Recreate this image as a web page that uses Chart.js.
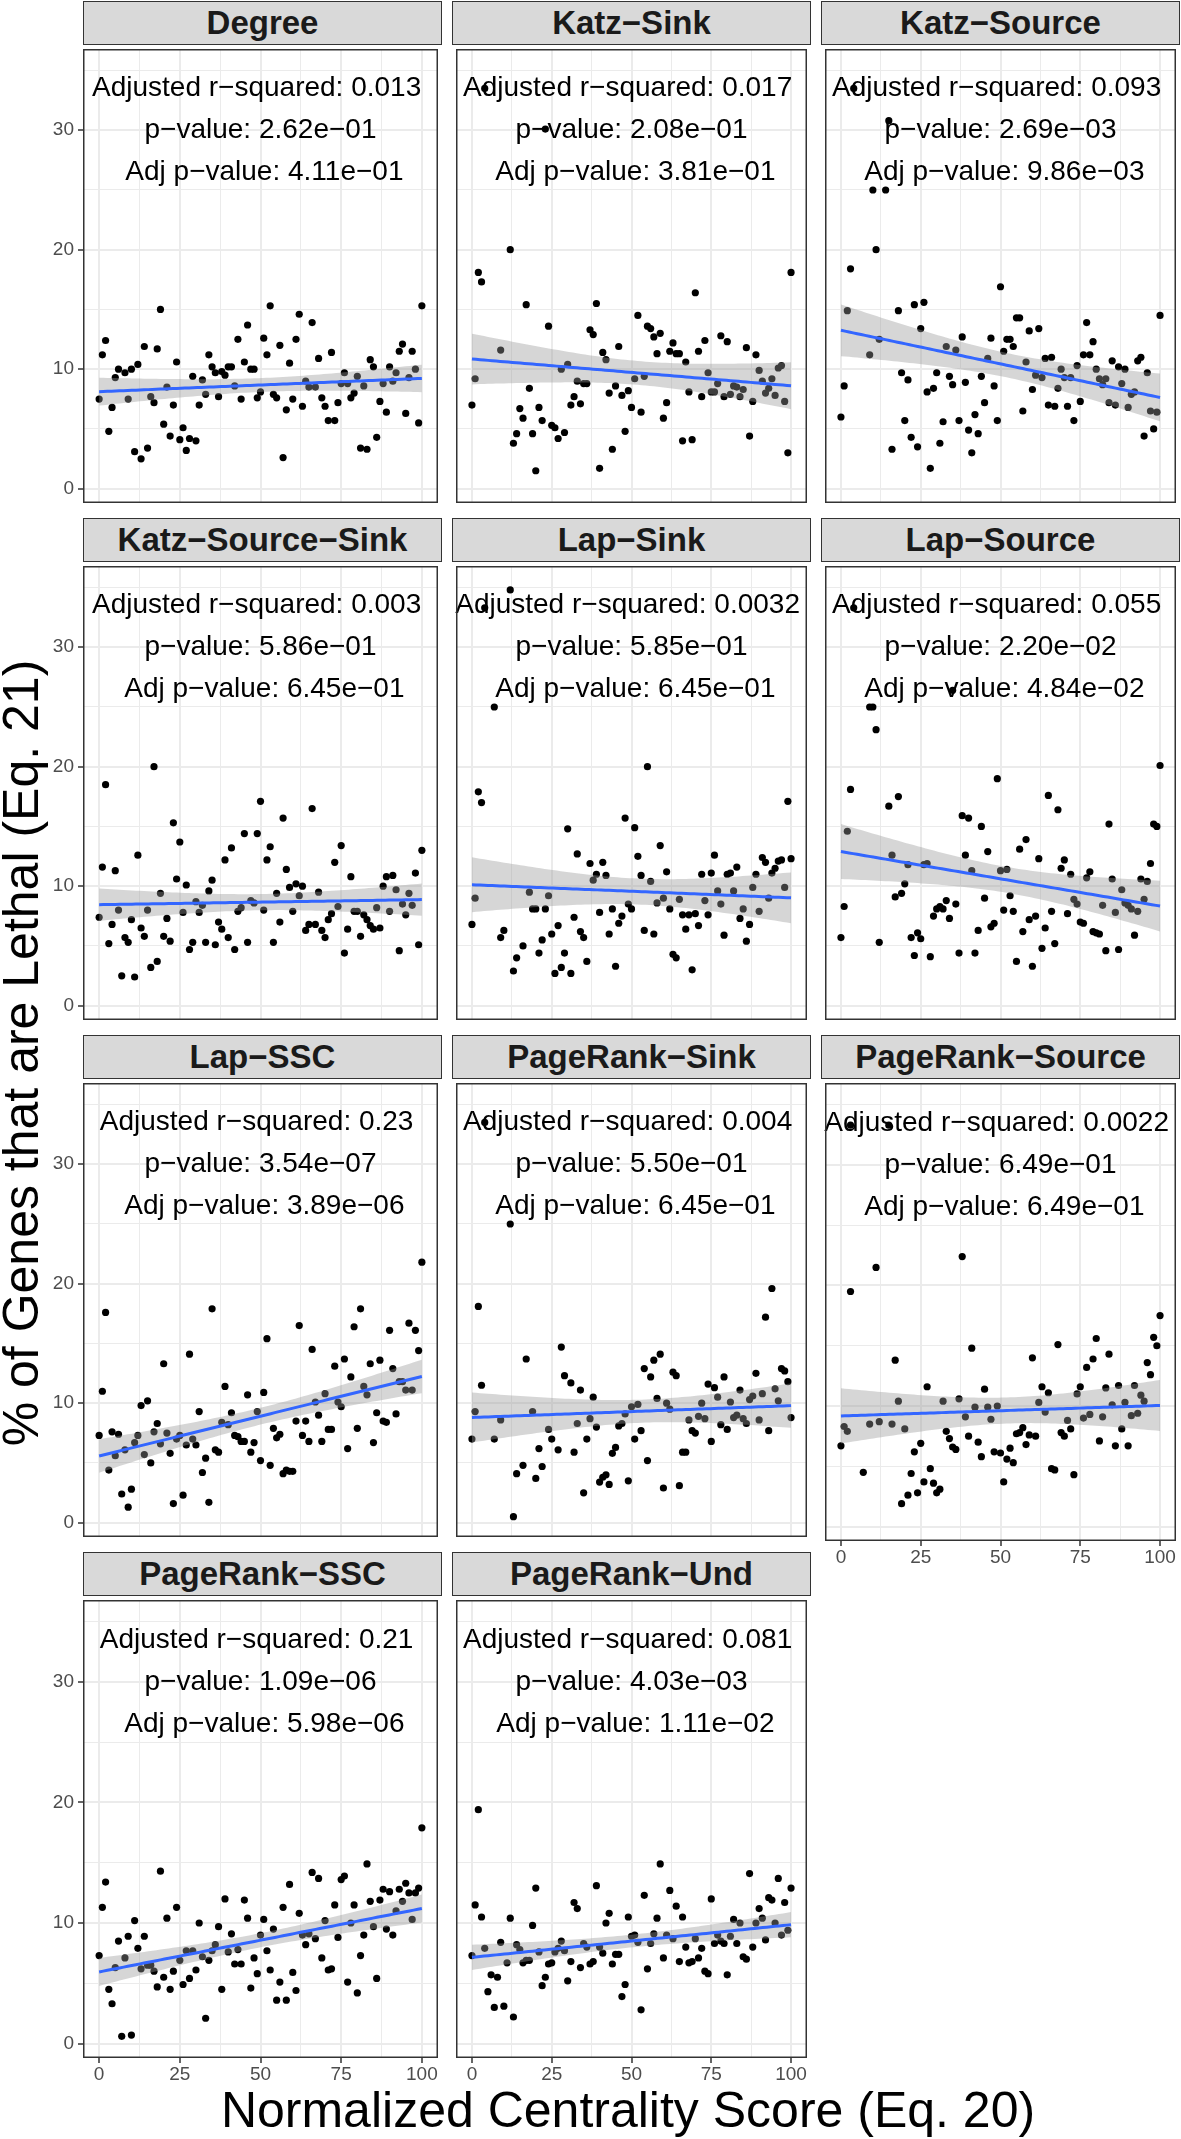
<!DOCTYPE html>
<html>
<head>
<meta charset="utf-8">
<script src="https://cdn.jsdelivr.net/npm/chart.js@4.4.1/dist/chart.umd.min.js"></script>
<style>
  body { margin: 0; background: #fff; width: 1181px; height: 2139px; position: relative; overflow: hidden;
         font-family: "Liberation Sans", Arial, sans-serif; }
  .strip { position: absolute; box-sizing: border-box; background: #d9d9d9; border: 1.5px solid #333;
           font-weight: bold; font-size: 33px; color: #1a1a1a; text-align: center; line-height: 41px; white-space: nowrap; }
  canvas { position: absolute; }
  .title { position: absolute; font-size: 50px; line-height: 56px; height: 56px; width: 1000px; color: #000;
           white-space: nowrap; text-align: center; }
</style>
</head>
<body>
<script>
// Nombres de los paneles y estadísticos mostrados en cada uno
const panelNames = ['Degree', 'Katz\u2212Sink', 'Katz\u2212Source', 'Katz\u2212Source\u2212Sink', 'Lap\u2212Sink',
  'Lap\u2212Source', 'Lap\u2212SSC', 'PageRank\u2212Sink', 'PageRank\u2212Source', 'PageRank\u2212SSC', 'PageRank\u2212Und'];
const adjRSquared = ['0.013', '0.017', '0.093', '0.003', '0.0032', '0.055', '0.23', '0.004', '0.0022', '0.21', '0.081'];
const pValues = ['2.62e\u221201', '2.08e\u221201', '2.69e\u221203', '5.86e\u221201', '5.85e\u221201', '2.20e\u221202',
  '3.54e\u221207', '5.50e\u221201', '6.49e\u221201', '1.09e\u221206', '4.03e\u221203'];
const adjPValues = ['4.11e\u221201', '3.81e\u221201', '9.86e\u221203', '6.45e\u221201', '6.45e\u221201', '4.84e\u221202',
  '3.89e\u221206', '6.45e\u221201', '6.49e\u221201', '5.98e\u221206', '1.11e\u221202'];

// Ticks de los ejes
const xTickLabels = [0, 25, 50, 75, 100];
const yTickLabels = [0, 10, 20, 30];
const xGridValues = [0, 12.5, 25, 37.5, 50, 62.5, 75, 87.5, 100];
const yGridValues = [0, 5, 10, 15, 20, 25, 30, 35];

// Puntos [centralidad normalizada, % letal] de cada panel
const degree = [[0,7.5],[1,11.2],[2,12.4],[3,4.8],[4,6.8],[5,9.3],[6,10.0],[8,9.7],[9,7.5],[10,10.0],[11,3.1],[12,10.4],[13,2.5],[14,11.9],[15,3.4],[16,7.7],[17,7.2],[18,11.7],[19,15.0],[20,5.4],[21,8.5],[22,4.4],[23,7.0],[24,10.6],[25,4.1],[26,5.1],[27,3.2],[28,4.2],[29,9.4],[30,4.0],[31,7.0],[32,9.1],[33,7.9],[34,11.2],[35,10.2],[36,9.7],[37,7.7],[38,9.8],[39,9.5],[40,10.2],[41,10.2],[42,8.6],[43,12.5],[44,7.5],[45,10.6],[46,13.7],[47,10.0],[48,10.0],[49,7.6],[50,8.1],[51,12.6],[52,11.2],[53,15.3],[54,7.9],[55,7.6],[56,12.0],[57,2.6],[58,6.6],[59,10.5],[60,7.5],[61,12.5],[62,14.6],[63,6.9],[64,9.0],[65,8.5],[66,13.9],[67,8.5],[68,10.9],[69,7.6],[70,6.9],[71,5.7],[72,11.4],[73,5.7],[74,7.2],[75,8.8],[76,9.7],[77,8.8],[78,7.6],[79,8.0],[80,9.4],[81,3.4],[82,8.6],[83,3.3],[84,10.8],[85,10.2],[86,4.3],[87,7.3],[88,8.8],[89,6.4],[90,10.2],[91,9.0],[92,9.7],[93,11.5],[94,12.1],[95,6.3],[96,9.3],[97,11.5],[98,10.0],[99,5.5],[100,15.3]];
const katzSink = [[0,7.0],[1,9.2],[2,18.1],[3,17.3],[4,33.5],[9,11.6],[12,20.0],[13,3.8],[14,4.6],[15,6.7],[16,5.9],[17,15.4],[18,8.4],[19,4.6],[20,1.5],[21,6.8],[22,5.7],[23,30.1],[24,13.6],[25,5.3],[26,5.1],[27,4.2],[28,10.0],[29,4.7],[30,10.4],[31,7.0],[32,7.7],[33,9.0],[34,7.1],[35,8.8],[36,8.8],[37,13.3],[38,12.9],[39,15.5],[40,1.7],[41,11.4],[42,10.8],[43,8.0],[44,3.3],[45,8.6],[46,11.9],[47,7.8],[48,4.8],[49,8.2],[50,6.8],[51,9.2],[52,14.5],[53,6.4],[54,9.4],[55,13.6],[56,13.4],[57,12.7],[58,11.3],[59,13.0],[60,5.9],[61,7.2],[62,11.5],[63,12.2],[64,11.3],[65,11.3],[66,4.0],[67,10.6],[68,8.1],[69,4.1],[70,16.4],[71,11.5],[72,7.7],[73,12.4],[74,9.7],[75,8.1],[76,8.1],[77,8.8],[78,12.8],[79,7.7],[80,12.3],[81,7.9],[82,8.6],[83,8.5],[84,7.7],[85,8.3],[86,11.8],[87,4.4],[88,7.3],[89,11.2],[90,9.9],[91,9.0],[92,8.0],[93,8.4],[94,9.2],[95,7.8],[96,10.1],[97,10.3],[98,7.3],[99,3.0],[100,18.1]];
const katzSource = [[0,6.0],[1,8.6],[2,14.9],[3,18.4],[4,33.5],[9,11.2],[10,25.0],[11,20.0],[12,12.5],[14,25.0],[15,30.8],[16,3.3],[18,14.9],[19,9.7],[20,5.7],[21,9.1],[22,4.3],[23,15.4],[24,3.5],[25,13.4],[26,15.6],[27,8.1],[28,1.7],[29,8.4],[30,9.7],[31,3.8],[32,5.6],[33,11.9],[34,9.4],[35,8.7],[36,11.6],[37,5.7],[38,12.7],[39,8.9],[40,4.9],[41,3.0],[42,6.2],[43,4.6],[44,9.4],[45,7.2],[46,10.9],[47,12.6],[48,8.6],[49,5.7],[50,16.9],[51,11.5],[52,12.5],[53,12.5],[54,11.9],[55,14.3],[56,14.3],[57,6.5],[58,10.6],[59,13.2],[60,8.3],[61,9.5],[62,13.4],[63,9.3],[64,10.9],[65,7.0],[66,11.0],[67,6.9],[68,8.4],[69,10.0],[70,9.3],[71,6.9],[72,9.3],[73,5.7],[74,10.3],[75,7.3],[76,11.2],[77,13.9],[78,11.2],[79,12.3],[80,10.0],[81,9.2],[82,8.7],[83,9.2],[84,7.2],[85,10.7],[86,7.0],[87,10.2],[88,8.8],[89,10.0],[90,6.8],[91,7.9],[92,8.1],[93,10.7],[94,11.0],[95,4.4],[96,9.7],[97,6.5],[98,5.0],[99,6.4],[100,14.5]];
const katzSourceSink = [[0,7.4],[1,11.6],[2,18.5],[3,5.2],[4,6.8],[5,11.3],[6,8.0],[7,2.5],[8,5.7],[9,5.3],[10,7.2],[11,2.4],[12,12.6],[13,6.5],[14,5.8],[15,8.0],[16,3.2],[17,20.0],[18,3.7],[19,9.4],[20,5.8],[21,7.3],[22,5.4],[23,15.3],[24,10.6],[25,13.7],[26,7.8],[27,10.1],[28,4.7],[29,5.3],[30,8.7],[31,7.8],[32,8.4],[33,5.3],[34,9.6],[35,10.5],[36,5.1],[37,7.0],[38,6.4],[39,12.2],[40,5.7],[41,13.2],[42,4.7],[43,7.9],[44,8.2],[45,14.4],[46,5.3],[47,8.8],[48,8.6],[49,14.4],[50,17.1],[51,8.0],[52,12.2],[53,13.3],[54,5.3],[55,9.4],[56,7.0],[57,15.7],[58,11.4],[59,9.9],[60,7.9],[61,10.2],[62,9.2],[63,10.0],[64,6.3],[65,6.8],[66,16.5],[67,6.8],[68,9.5],[69,6.3],[70,5.7],[71,7.2],[72,7.7],[73,12.0],[74,8.3],[75,13.4],[76,4.4],[77,6.4],[78,10.8],[79,7.9],[80,7.9],[81,5.8],[82,7.6],[83,7.2],[84,6.7],[85,6.4],[86,8.2],[87,6.5],[88,10.0],[89,10.8],[90,7.9],[91,10.9],[92,9.7],[93,4.6],[94,8.5],[95,7.6],[96,9.4],[97,8.4],[98,11.1],[99,5.1],[100,13.0]];
const lapSink = [[0,6.8],[1,9.0],[2,17.9],[3,17.0],[4,33.3],[7,25.0],[9,5.7],[10,6.3],[12,34.8],[13,2.9],[14,4.0],[16,5.0],[18,9.5],[19,8.1],[20,8.1],[21,4.4],[22,5.5],[23,8.1],[24,9.2],[25,6.0],[26,2.7],[27,6.7],[28,3.2],[29,4.4],[30,14.8],[31,2.7],[32,7.4],[33,12.7],[34,6.2],[35,5.7],[36,3.7],[37,11.9],[38,10.5],[39,11.0],[40,7.8],[41,12.0],[42,10.9],[43,6.0],[44,8.1],[45,3.3],[46,6.9],[47,7.5],[48,15.7],[49,8.5],[50,8.1],[51,14.9],[52,12.5],[53,10.9],[54,6.3],[55,20.0],[56,10.4],[57,6.0],[58,8.6],[59,13.4],[60,9.0],[61,11.2],[62,8.1],[63,4.3],[64,4.0],[65,8.9],[66,7.6],[67,6.4],[68,7.6],[69,3.0],[70,7.7],[71,6.7],[72,11.0],[73,8.8],[74,7.6],[75,11.1],[76,12.6],[77,9.6],[78,8.5],[79,5.9],[80,11.0],[81,11.1],[82,9.6],[83,11.6],[84,7.3],[85,8.1],[86,5.4],[87,6.8],[88,9.9],[89,11.0],[90,7.9],[91,12.4],[92,12.0],[93,9.0],[94,11.1],[95,11.5],[96,12.1],[97,12.2],[98,9.9],[99,17.1],[100,12.3]];
const lapSource = [[0,5.7],[1,8.3],[2,14.6],[3,18.1],[4,33.3],[9,25.0],[10,25.0],[11,23.1],[12,5.3],[15,16.7],[16,12.6],[17,9.1],[18,17.5],[19,9.4],[20,10.2],[21,11.8],[22,5.7],[23,4.2],[24,6.1],[25,5.6],[26,11.8],[27,11.9],[28,4.1],[29,7.5],[30,8.1],[31,8.3],[32,8.1],[33,8.8],[34,7.3],[35,26.4],[36,8.5],[37,4.4],[38,15.9],[39,12.6],[40,15.7],[41,11.3],[42,4.4],[43,6.3],[44,15.0],[45,9.0],[46,12.9],[47,6.6],[48,6.9],[49,19.0],[50,11.3],[51,8.0],[52,11.4],[53,9.2],[54,7.9],[55,3.7],[56,13.1],[57,6.2],[58,13.9],[59,7.2],[60,3.3],[61,7.5],[62,12.3],[63,4.8],[64,6.5],[65,17.6],[66,7.9],[67,5.2],[68,16.4],[69,11.5],[70,12.2],[71,7.7],[72,11.0],[73,8.9],[74,8.5],[75,7.0],[76,6.9],[77,10.7],[78,11.2],[79,6.2],[80,6.1],[81,6.0],[82,8.4],[83,4.6],[84,15.2],[85,10.6],[86,7.8],[87,4.7],[88,9.7],[89,8.6],[90,8.4],[91,8.1],[92,5.9],[93,7.9],[94,10.6],[95,8.9],[96,10.4],[97,11.9],[98,15.2],[99,15.0],[100,20.1]];
const lapSSC = [[0,7.3],[1,11.0],[2,17.6],[3,4.4],[4,7.6],[5,5.6],[6,7.4],[7,2.4],[8,6.1],[9,1.3],[10,2.8],[11,6.7],[12,7.3],[13,9.8],[14,5.7],[15,10.2],[16,5.0],[17,7.6],[18,8.3],[19,6.6],[20,13.3],[21,7.5],[22,5.8],[23,1.6],[24,7.0],[25,7.3],[26,2.3],[27,6.5],[28,14.1],[29,7.0],[30,6.5],[31,9.3],[32,4.2],[33,5.4],[34,1.7],[35,17.9],[36,6.1],[37,5.9],[38,8.4],[39,11.4],[40,8.2],[41,9.2],[42,7.3],[43,7.2],[44,6.8],[45,6.8],[46,10.7],[47,5.9],[48,6.7],[49,9.3],[50,5.2],[51,10.9],[52,15.4],[53,4.8],[54,7.9],[55,7.1],[56,7.4],[57,4.1],[58,4.4],[59,4.3],[60,4.3],[61,8.5],[62,16.5],[63,7.3],[64,8.5],[65,6.8],[66,14.5],[67,10.1],[68,9.0],[69,6.8],[70,10.8],[71,7.8],[72,7.8],[73,13.1],[74,10.1],[75,9.7],[76,13.7],[77,6.2],[78,12.2],[79,16.4],[80,7.9],[81,17.9],[82,11.4],[83,10.7],[84,13.3],[85,6.7],[86,9.2],[87,13.6],[88,8.5],[89,8.4],[90,16.1],[91,12.9],[92,9.1],[93,11.8],[94,11.8],[95,11.1],[96,16.7],[97,11.1],[98,16.1],[99,14.4],[100,21.8]];
const pageRankSink = [[0,7.0],[1,9.3],[2,18.1],[3,11.5],[4,33.5],[7,7.0],[9,8.6],[12,25.0],[13,0.5],[14,4.1],[16,4.8],[17,13.7],[19,9.3],[20,3.7],[21,6.2],[22,4.7],[24,7.8],[25,7.0],[27,6.1],[28,14.7],[29,12.3],[31,11.7],[32,5.9],[33,8.3],[34,11.1],[35,2.5],[36,7.0],[37,8.7],[38,10.5],[39,8.0],[40,3.4],[41,3.8],[42,4.0],[43,3.2],[44,5.8],[45,6.3],[46,8.1],[47,8.3],[48,9.1],[49,3.5],[50,9.7],[51,7.0],[52,9.9],[53,7.7],[54,12.9],[55,5.2],[56,12.2],[57,13.6],[58,10.4],[59,14.1],[60,2.9],[61,10.0],[62,9.5],[63,12.6],[64,12.3],[65,3.1],[66,5.9],[67,5.9],[68,8.6],[69,7.7],[70,7.5],[71,8.9],[72,10.0],[73,8.7],[74,11.6],[75,6.8],[76,11.3],[77,10.5],[78,8.2],[79,12.2],[80,7.8],[81,10.1],[82,8.8],[83,9.0],[84,11.1],[85,8.7],[86,8.3],[87,10.3],[88,10.6],[89,12.5],[90,8.6],[91,10.8],[92,17.2],[93,7.7],[94,19.6],[95,11.2],[96,10.2],[97,12.9],[98,12.7],[99,11.8],[100,8.8]];
const pageRankSource = [[0,6.7],[1,8.3],[2,7.9],[3,19.5],[3,33.3],[7,4.5],[9,8.5],[11,21.5],[12,8.7],[15,33.3],[16,8.5],[17,13.8],[18,10.4],[19,1.9],[20,8.1],[21,2.6],[22,4.4],[23,6.2],[24,2.8],[25,6.9],[26,3.7],[27,11.6],[28,4.8],[29,3.6],[30,2.8],[31,3.1],[32,10.4],[33,7.9],[34,7.3],[35,6.6],[36,6.4],[37,10.6],[38,22.4],[39,9.1],[40,7.5],[41,14.8],[42,9.9],[43,7.0],[44,5.8],[45,11.4],[46,9.9],[47,8.9],[48,6.2],[49,10.0],[50,6.1],[51,3.7],[52,5.6],[53,6.5],[54,5.3],[55,7.7],[56,7.8],[57,8.2],[58,6.8],[59,7.6],[60,14.0],[61,7.5],[62,10.3],[63,11.6],[64,9.5],[65,11.1],[66,4.8],[67,4.7],[68,15.1],[69,7.8],[70,7.5],[71,8.8],[72,8.1],[73,4.3],[74,11.0],[75,11.6],[76,9.0],[77,13.2],[78,9.3],[79,13.9],[80,15.6],[81,7.1],[82,9.1],[83,11.5],[84,14.3],[85,10.1],[86,6.7],[87,11.7],[88,8.1],[89,10.3],[90,6.7],[91,9.2],[92,11.7],[93,9.4],[94,10.9],[95,10.4],[96,13.6],[97,12.6],[98,15.7],[99,15.0],[100,17.5]];
const pageRankSSC = [[0,7.3],[1,11.3],[2,13.4],[3,4.5],[4,3.3],[5,6.3],[6,8.5],[7,0.6],[8,7.1],[9,8.9],[10,0.7],[11,10.2],[12,7.9],[13,6.2],[14,8.9],[15,6.5],[16,6.5],[17,6.0],[18,4.7],[19,14.3],[20,5.5],[21,10.4],[22,4.5],[23,6.0],[24,11.3],[25,6.9],[26,4.9],[27,7.7],[28,5.4],[29,7.7],[30,6.1],[31,10.0],[32,7.2],[33,2.1],[34,6.9],[35,7.7],[36,8.2],[37,9.7],[38,4.5],[39,12.0],[40,7.6],[41,9.1],[42,6.6],[43,7.8],[44,6.6],[45,11.9],[46,10.4],[47,4.6],[48,7.1],[49,5.8],[50,9.0],[51,10.3],[52,7.7],[53,6.1],[54,9.5],[55,3.6],[56,5.1],[57,11.3],[58,3.6],[59,13.2],[60,5.9],[61,4.4],[62,10.8],[63,9.0],[64,8.2],[65,9.1],[66,14.2],[67,8.7],[68,13.7],[69,7.1],[70,10.2],[71,6.1],[72,6.2],[73,11.5],[74,8.8],[75,13.6],[76,13.9],[77,5.1],[78,10.0],[79,11.5],[80,4.2],[81,7.3],[82,9.0],[83,14.9],[84,11.8],[85,9.7],[86,5.4],[87,11.9],[88,12.8],[89,9.5],[90,12.6],[91,9.0],[92,11.0],[93,12.8],[94,11.8],[95,13.3],[96,12.5],[97,10.3],[98,12.5],[99,12.9],[100,17.9]];
const pageRankUnd = [[0,7.3],[1,11.5],[2,19.4],[3,10.5],[4,7.9],[5,4.3],[6,5.7],[7,3.0],[8,5.5],[9,8.4],[10,3.1],[11,6.7],[12,10.4],[13,2.2],[14,8.2],[15,7.8],[16,6.7],[17,6.9],[18,6.9],[19,9.8],[20,12.9],[21,7.6],[22,4.8],[23,5.5],[24,6.6],[25,6.7],[26,7.6],[27,7.9],[28,8.5],[29,7.7],[30,5.2],[31,6.8],[32,11.7],[33,11.2],[34,6.3],[35,8.3],[36,8.0],[37,6.6],[38,6.8],[39,13.1],[40,8.0],[41,7.5],[42,10.0],[43,10.8],[44,6.6],[45,7.4],[46,7.4],[47,3.9],[48,4.9],[49,10.5],[50,8.9],[51,9.0],[52,8.4],[53,2.8],[54,12.3],[55,6.2],[56,8.3],[57,9.1],[58,10.4],[59,14.9],[60,7.1],[61,9.0],[62,12.7],[63,8.7],[64,11.4],[65,6.8],[66,10.5],[67,8.0],[68,6.7],[69,6.8],[70,8.7],[71,7.1],[72,7.9],[73,6.0],[74,5.8],[75,12.0],[76,8.3],[77,9.0],[78,8.5],[79,8.3],[80,5.7],[81,8.9],[82,10.3],[83,8.3],[84,10.0],[85,7.2],[86,7.0],[87,14.1],[88,8.0],[89,10.0],[90,11.2],[91,10.4],[92,8.6],[93,12.1],[94,11.9],[95,10.0],[96,13.7],[97,9.0],[98,11.7],[99,9.4],[100,12.9]];

const panelData = [degree, katzSink, katzSource, katzSourceSink, lapSink, lapSource, lapSSC,
  pageRankSink, pageRankSource, pageRankSSC, pageRankUnd];

// Geometría de la rejilla de paneles (px)
const COL_LEFT = [83, 452, 821];
const STRIP_TOP = [1, 518, 1035, 1552];
const PLOT_W = 359, PLOT_H = 462, STRIP_H = 44;
const Y_AXIS_W = 45, X_AXIS_H = 35;
const FONT = '"Liberation Sans", Arial, sans-serif';

// Ajuste lineal (lm) con banda de confianza del 95 %
function fitLm(points) {
  const n = points.length;
  const mx = points.reduce((s, p) => s + p[0], 0) / n;
  const my = points.reduce((s, p) => s + p[1], 0) / n;
  let sxx = 0, sxy = 0;
  points.forEach(p => { sxx += (p[0] - mx) ** 2; sxy += (p[0] - mx) * (p[1] - my); });
  const b = sxy / sxx, a = my - b * mx;
  let sse = 0;
  points.forEach(p => { const r = p[1] - (a + b * p[0]); sse += r * r; });
  const s = Math.sqrt(sse / (n - 2));
  const t = 1.985;
  const xs = points.map(p => p[0]);
  const x0 = Math.min(...xs), x1 = Math.max(...xs);
  const line = [], upper = [], lower = [];
  for (let i = 0; i < 80; i++) {
    const x = x0 + (x1 - x0) * i / 79;
    const y = a + b * x;
    const se = s * Math.sqrt(1 / n + (x - mx) ** 2 / sxx);
    line.push({ x, y });
    upper.push({ x, y: y + t * se });
    lower.push({ x, y: y - t * se });
  }
  return { line, upper, lower };
}

// Texto de estadísticos y borde del panel
const panelDecor = {
  id: 'panelDecor',
  beforeDatasetsDraw(chart, args, opts) {
    const { ctx, scales: { x, y } } = chart;
    ctx.save();
    ctx.font = '28px ' + FONT;
    ctx.fillStyle = '#000';
    ctx.textAlign = 'center';
    ctx.textBaseline = 'middle';
    const cx = x.getPixelForValue(50), cy = y.getPixelForValue(30);
    opts.lines.forEach((txt, i) => ctx.fillText(txt, cx, cy + (i - 1) * 42));
    ctx.restore();
  },
  afterDraw(chart) {
    const { ctx, chartArea: a } = chart;
    ctx.save();
    ctx.strokeStyle = '#333';
    ctx.lineWidth = 1.5;
    ctx.strokeRect(a.left + 0.75, a.top + 0.75, a.right - a.left - 1.5, a.bottom - a.top - 1.5);
    ctx.restore();
  }
};

function addDiv(cls, text, style) {
  const d = document.createElement('div');
  d.className = cls;
  d.textContent = text;
  Object.assign(d.style, style);
  document.body.appendChild(d);
  return d;
}

panelNames.forEach((name, i) => {
  const col = i % 3, row = Math.floor(i / 3);
  const showY = col === 0;
  const showX = i >= 8;

  addDiv('strip', name, {
    left: COL_LEFT[col] + 'px', top: STRIP_TOP[row] + 'px', width: PLOT_W + 'px', height: STRIP_H + 'px'
  });

  const canvas = document.createElement('canvas');
  const w = PLOT_W + (showY ? Y_AXIS_W : 0);
  const h = PLOT_H + (showX ? X_AXIS_H : 0);
  canvas.width = w; canvas.height = h;
  canvas.style.width = w + 'px'; canvas.style.height = h + 'px';
  canvas.style.left = (COL_LEFT[col] - (showY ? Y_AXIS_W : 0)) + 'px';
  canvas.style.top = (STRIP_TOP[row] + STRIP_H) + 'px';
  document.body.appendChild(canvas);

  const pts = panelData[i];
  const fit = fitLm(pts);

  new Chart(canvas, {
    type: 'scatter',
    data: {
      datasets: [
        { type: 'line', data: fit.line, borderColor: '#3366FF', borderWidth: 3, pointRadius: 0, tension: 0, order: 0 },
        { type: 'line', data: fit.upper, borderWidth: 0, borderColor: 'rgba(0,0,0,0)', pointRadius: 0,
          fill: '+1', backgroundColor: 'rgba(153,153,153,0.4)', order: 1 },
        { type: 'line', data: fit.lower, borderWidth: 0, borderColor: 'rgba(0,0,0,0)', pointRadius: 0, order: 1 },
        { data: pts.map(p => ({ x: p[0], y: p[1] })), pointRadius: 3.6, pointBackgroundColor: '#000',
          pointBorderWidth: 0, order: 2 }
      ]
    },
    options: {
      responsive: false,
      animation: false,
      events: [],
      layout: { padding: 0 },
      plugins: {
        legend: { display: false },
        tooltip: { enabled: false },
        panelDecor: {
          lines: ['Adjusted r\u2212squared: ' + adjRSquared[i] + ' ', 'p\u2212value: ' + pValues[i],
                  ' Adj p\u2212value: ' + adjPValues[i]]
        }
      },
      scales: {
        x: {
          type: 'linear', min: -5, max: 105,
          afterBuildTicks: s => { s.ticks = xGridValues.map(v => ({ value: v })); },
          afterFit: s => { s.height = showX ? X_AXIS_H : 0; s.paddingLeft = 0; s.paddingRight = 0; },
          border: { display: false },
          grid: {
            color: '#EBEBEB',
            lineWidth: c => (c.tick && xTickLabels.includes(c.tick.value)) ? 2 : 1,
            drawTicks: showX, tickLength: 5, tickWidth: 1.5,
            tickColor: c => (c.tick && xTickLabels.includes(c.tick.value)) ? '#333' : 'rgba(0,0,0,0)'
          },
          ticks: {
            display: showX, autoSkip: false, maxRotation: 0, padding: 0, color: '#4D4D4D',
            font: { size: 19, family: FONT },
            callback: v => xTickLabels.includes(v) ? String(v) : ''
          }
        },
        y: {
          type: 'linear', min: -1.2, max: 36.8,
          afterBuildTicks: s => { s.ticks = yGridValues.map(v => ({ value: v })); },
          afterFit: s => { s.width = showY ? Y_AXIS_W : 0; s.paddingTop = 0; s.paddingBottom = 0; },
          border: { display: false },
          grid: {
            color: '#EBEBEB',
            lineWidth: c => (c.tick && yTickLabels.includes(c.tick.value)) ? 2 : 1,
            drawTicks: showY, tickLength: 5, tickWidth: 1.5,
            tickColor: c => (c.tick && yTickLabels.includes(c.tick.value)) ? '#333' : 'rgba(0,0,0,0)'
          },
          ticks: {
            display: showY, autoSkip: false, padding: 4, color: '#4D4D4D',
            font: { size: 19, family: FONT },
            callback: v => yTickLabels.includes(v) ? String(v) : ''
          }
        }
      }
    },
    plugins: [panelDecor]
  });
});

// Títulos de los ejes
addDiv('title', 'Normalized Centrality Score (Eq. 20)', { left: (628 - 500) + 'px', top: '2082px' });
addDiv('title', '% of Genes that are Lethal (Eq. 21)', {
  left: (21 - 500) + 'px', top: (1053 - 28) + 'px', transform: 'rotate(-90deg)'
});
</script>
</body>
</html>
